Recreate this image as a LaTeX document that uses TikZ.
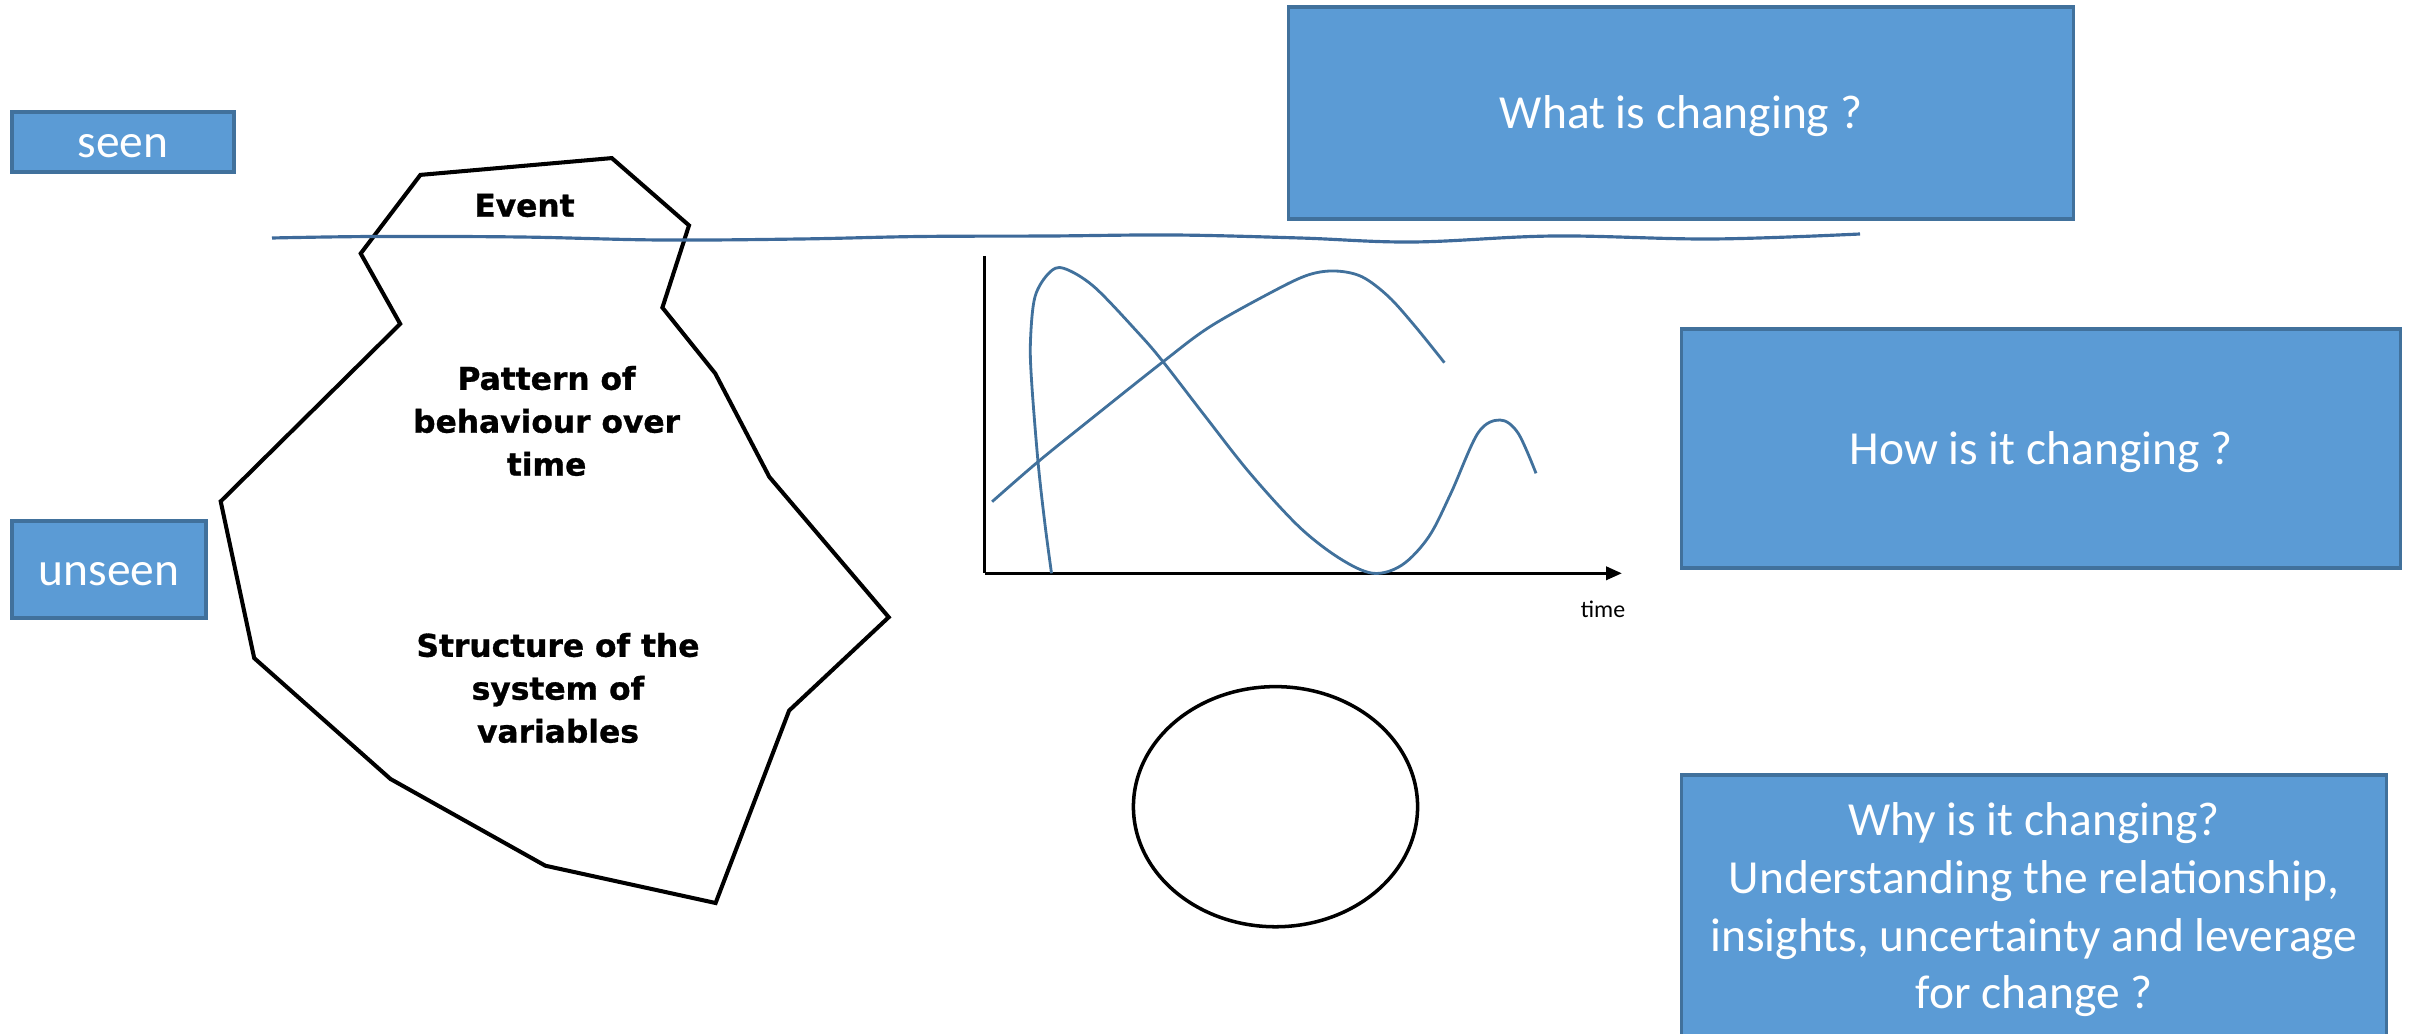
\documentclass[tikz,border=0pt]{standalone}
\usepackage{fontspec}
\setmainfont{Carlito}
\newfontfamily\icefont[BoldFeatures={FakeBold=1.0}]{DejaVu Sans}
\usetikzlibrary{arrows.meta,shapes.geometric}
\definecolor{boxfill}{HTML}{5B9BD5}
\definecolor{boxline}{HTML}{41719C}
\definecolor{curvecol}{HTML}{41719C}
\definecolor{watercol}{HTML}{3E6A9A}
\begin{document}
\begin{tikzpicture}[x=0.01cm,y=-0.01cm,
  bluebox/.style={draw=boxline, fill=boxfill, line width=0.9pt, text=white,
    font=\fontsize{13.5}{16.4}\selectfont, align=center, inner sep=0pt},
  oneline/.style={text height=12pt, text depth=3pt},
  icetext/.style={font=\icefont\bfseries\fontsize{8.9}{12.2}\selectfont, align=center, inner sep=0pt},
  curveline/.style={draw=curvecol, line width=0.8pt},
  ]
\useasboundingbox (0,0) rectangle (2410,1034);
\clip (0,0) rectangle (2410,1034);

% boxes
\node[bluebox, oneline, minimum width=2.22cm, minimum height=0.60cm] (seen) at (123,142) {seen};
\node[bluebox, oneline, minimum width=1.94cm, minimum height=0.97cm] (unseen) at (109,569.5) {unseen};
\node[bluebox, oneline, minimum width=7.84cm, minimum height=2.12cm] (what) at (1681,113) {What is changing ?};
\node[bluebox, oneline, minimum width=7.19cm, minimum height=2.39cm] (how) at (2041,448.5) {How is it changing ?};
\node[bluebox, minimum width=7.05cm, minimum height=2.62cm] (why) at (2034,906) {};
\node[font=\fontsize{13.5}{16.4}\selectfont, text=white, align=center, inner sep=0pt] (whytext) at (2034,910)
  {Why is it changing?\\Understanding the relationship,\\insights, uncertainty and leverage\\for change ?};

% iceberg
\draw[line width=1.15pt, line join=miter] (420.4,174.9) -- (611.8,158.1) -- (689.0,225.4) -- (662.4,307.6)
  -- (715.2,373.4) -- (769.3,476.9) -- (888.7,617.2) -- (789.1,710.6) -- (715.6,903.0)
  -- (545.3,865.7) -- (390.5,779.0) -- (254.2,658.1) -- (220.7,501.4) -- (400.2,323.9)
  -- (360.7,253.5) -- cycle;
\node[icetext] (event) at (524.5,205.5) {Event};
\node[icetext] (pattern) at (546.6,421) {Pattern of\\behaviour over\\time};
\node[icetext] (structure) at (558,688) {Structure of the\\system of\\variables};

% water line
\draw[draw=watercol, line width=0.9pt] plot[smooth, tension=0.6] coordinates {
  (272,238) (374,236.5) (520,237) (660,240) (800,239) (920,236.5) (1050,236)
  (1174,235) (1300,238) (1413,242) (1554,236) (1712,239) (1860,234)};

% graph
\coordinate (ytop) at (984.6,256);
\coordinate (orig) at (984.6,573.3);
\coordinate (xend) at (1622,573.3);
\draw[line width=1pt] (ytop) -- (orig);
\draw[line width=1pt, -{Triangle[length=0.16cm,width=0.13cm]}] (orig) -- (xend);
\node[font=\fontsize{6.8}{8}\selectfont, inner sep=0pt] (time) at (1603,609) {time};

\draw[curveline] plot[smooth, tension=0.55] coordinates {
  (1051.5,573.3) (1044.8,523) (1038,461.7) (1031.5,380) (1030.5,340) (1035,296.7)
  (1049,273) (1063.6,268.3) (1094,286.7) (1138.6,333.3) (1163,361.7) (1205.5,416.7)
  (1250,473.3) (1299,526.7) (1339.5,558.3) (1373,573.3) (1402,565) (1428.8,536.7)
  (1451,493) (1478,433) (1500,420) (1518,433) (1536,473.3)};
\draw[curveline] plot[smooth, tension=0.55] coordinates {
  (992.1,501.7) (1038.1,461.7) (1093.9,416.7) (1163.1,361.7) (1210,326.7)
  (1272.5,291.7) (1308,275) (1335,271) (1361.8,276.7) (1388.6,296.7)
  (1415.4,326.7) (1444.4,362.7)};

% loop ellipse
\node[draw, line width=1pt, ellipse, minimum width=2.84cm, minimum height=2.40cm, inner sep=0pt] (loop) at (1275.5,806.7) {};
\end{tikzpicture}
\end{document}
